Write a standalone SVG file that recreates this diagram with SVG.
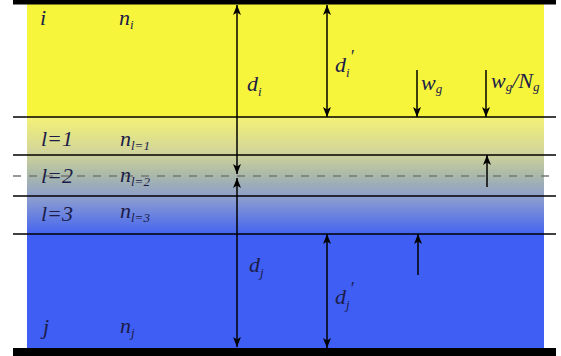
<svg xmlns="http://www.w3.org/2000/svg" width="561" height="356" viewBox="0 0 561 356">
<defs>
<linearGradient id="grad" x1="0" y1="117" x2="0" y2="234" gradientUnits="userSpaceOnUse">
<stop offset="0" stop-color="#f4f276"/>
<stop offset="0.3" stop-color="#d2d59a"/>
<stop offset="0.5" stop-color="#a9b8aa"/>
<stop offset="0.7" stop-color="#8a9cd0"/>
<stop offset="1" stop-color="#4564f0"/>
</linearGradient>
<marker id="ah" viewBox="0 0 10 8" refX="10" refY="4" markerWidth="10" markerHeight="8" markerUnits="userSpaceOnUse" orient="auto">
<path d="M0,0 L10,4 L0,8 L2.5,4 Z" fill="#000"/>
</marker>
</defs>
<style>
.ln{stroke:#000;stroke-width:1.5;fill:none}
.ar{stroke:#000;stroke-width:1.5;fill:none}
.dash{stroke:#777;stroke-width:1.5;stroke-dasharray:8 8;fill:none}
.t{font-family:'Liberation Serif','DejaVu Serif',serif;font-style:italic;fill:#1c1c48;font-size:22px}
.s{font-size:13px}
.p{font-size:18px}
</style>
<rect width="561" height="356" fill="#fff"/>
<g id="layers">
<rect x="27" y="4" width="517" height="113" fill="#f6f53c"/>
<rect x="27" y="117" width="517" height="117" fill="url(#grad)"/>
<rect x="27" y="234" width="517" height="114" fill="#3f5ef3"/>
<rect x="13" y="0" width="543" height="4.5" fill="#000"/>
<rect x="13" y="348" width="543" height="8" fill="#000"/>
</g>
<g id="interfaces">
<line class="ln" x1="13" y1="117" x2="556" y2="117"/>
<line class="ln" x1="13" y1="155" x2="556" y2="155"/>
<line class="dash" x1="13" y1="176" x2="556" y2="176"/>
<line class="ln" x1="13" y1="196" x2="556" y2="196"/>
<line class="ln" x1="13" y1="234" x2="556" y2="234"/>
</g>
<g id="connectors">
<line class="ar" x1="237" y1="90" x2="237" y2="5" marker-end="url(#ah)"/>
<line class="ar" x1="237" y1="90" x2="237" y2="174" marker-end="url(#ah)"/>
<line class="ar" x1="237" y1="260" x2="237" y2="178" marker-end="url(#ah)"/>
<line class="ar" x1="237" y1="260" x2="237" y2="347" marker-end="url(#ah)"/>
<line class="ar" x1="327" y1="60" x2="327" y2="5" marker-end="url(#ah)"/>
<line class="ar" x1="327" y1="60" x2="327" y2="117" marker-end="url(#ah)"/>
<line class="ar" x1="327" y1="290" x2="327" y2="234" marker-end="url(#ah)"/>
<line class="ar" x1="327" y1="290" x2="327" y2="348" marker-end="url(#ah)"/>
<line class="ar" x1="417" y1="70" x2="417" y2="117" marker-end="url(#ah)"/>
<line class="ar" x1="486" y1="70" x2="486" y2="117" marker-end="url(#ah)"/>
<line class="ar" x1="487" y1="187" x2="487" y2="155" marker-end="url(#ah)"/>
<line class="ar" x1="418" y1="275" x2="418" y2="234" marker-end="url(#ah)"/>
</g>
<g id="labels">
<text class="t" x="40" y="25">i</text>
<text class="t" x="119" y="25">n<tspan class="s" dy="4">i</tspan></text>
<text class="t" x="247" y="91">d<tspan class="s" dy="5">i</tspan></text>
<text class="t" x="335" y="72">d<tspan class="s" dy="5">i</tspan><tspan class="p" dy="-14">′</tspan></text>
<text class="t" x="421" y="90">w<tspan class="s" dy="3">g</tspan></text>
<text class="t" x="491" y="88">w<tspan class="s" dy="3">g</tspan><tspan dy="-3">/N</tspan><tspan class="s" dy="3">g</tspan></text>
<text class="t" x="41" y="146">l=1</text>
<text class="t" x="120" y="146">n<tspan class="s" dy="4">l=1</tspan></text>
<text class="t" x="41" y="183">l=2</text>
<text class="t" x="120" y="182">n<tspan class="s" dy="4">l=2</tspan></text>
<text class="t" x="41" y="221">l=3</text>
<text class="t" x="120" y="218">n<tspan class="s" dy="4">l=3</tspan></text>
<text class="t" x="249" y="272">d<tspan class="s" dy="5">j</tspan></text>
<text class="t" x="335" y="304">d<tspan class="s" dy="5">j</tspan><tspan class="p" dy="-14">′</tspan></text>
<text class="t" x="43" y="334">j</text>
<text class="t" x="120" y="333">n<tspan class="s" dy="4">j</tspan></text>
</g>
</svg>
